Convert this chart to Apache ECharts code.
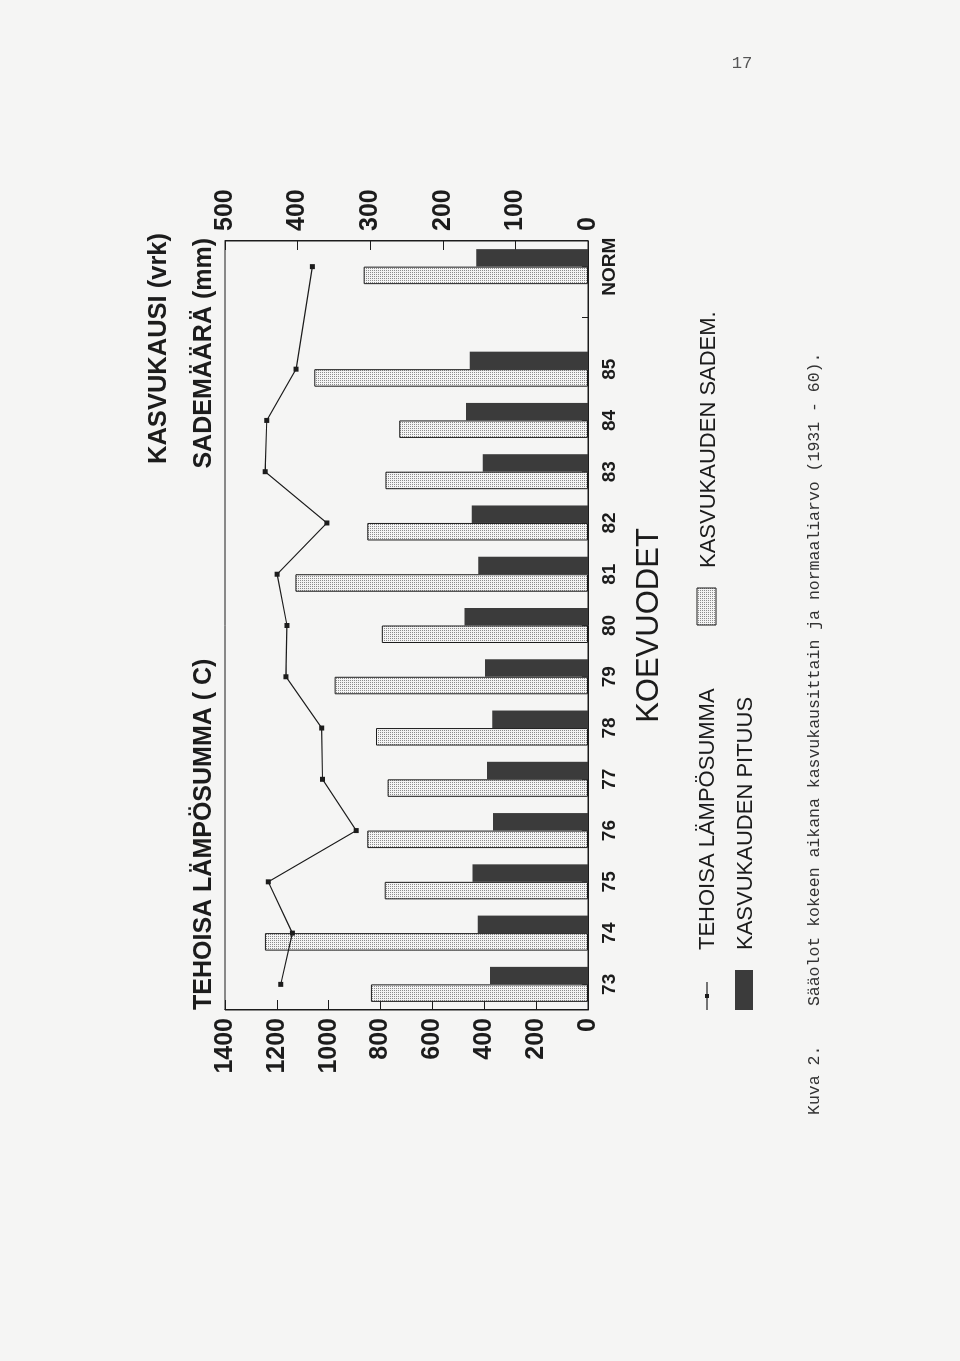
<!DOCTYPE html>
<html>
<head>
<meta charset="utf-8">
<script src="https://cdn.jsdelivr.net/npm/echarts@6/dist/echarts.min.js"></script>
<style>
html,body{margin:0;padding:0;background:#f5f5f4;}
#page{position:relative;width:960px;height:1361px;overflow:hidden;background:#f5f5f4;}
#chart{position:absolute;left:0;top:0;width:1361px;height:960px;transform-origin:0 0;transform:translate(0,1361px) rotate(-90deg);}
</style>
</head>
<body>
<div id="page"><div id="chart"></div></div>
<script>
// ---- data ----
const years = ['73','74','75','76','77','78','79','80','81','82','83','84','85','','NORM'];
const heatSum = [1185,1140,1233,894,1024,1027,1165,1161,1199,1007,1245,1239,1126,null,1063];      // TEHOISA LÄMPÖSUMMA (°C)
const rainfall = [299,445,280,304,276,292,349,284,403,304,279,260,377,null,309];                  // KASVUKAUDEN SADEM. (mm)
const seasonLength = [135,152,159,131,139,132,142,170,151,160,145,168,163,null,154];              // KASVUKAUDEN PITUUS (vrk)
const leftAxis = {min: 0, max: 1400, interval: 200};
const rightAxis = {min: 0, max: 500, interval: 100};

const INK = '#1c1c1c';
const FONT = "'Liberation Sans', Arial, Helvetica, sans-serif";

// stipple pattern for the rainfall bars
const pc = document.createElement('canvas');
pc.width = 2; pc.height = 2;
const pctx = pc.getContext('2d');
pctx.fillStyle = '#f4f4f4'; pctx.fillRect(0,0,2,2);
pctx.fillStyle = '#8c8c8c'; pctx.fillRect(0,0,1,1);
const stipple = {image: pc, repeat: 'repeat'};

const chart = echarts.init(document.getElementById('chart'), null, {renderer: 'canvas'});

const plain = v => String(v);

const option = {
  backgroundColor: 'transparent',
  animation: false,
  grid: {left: 351, right: 241, top: 225, bottom: 372, show: true, borderColor: INK, borderWidth: 1, backgroundColor: 'transparent', containLabel: false, outerBoundsMode: 'none'},
  xAxis: {
    type: 'category', data: years, boundaryGap: true,
    axisLine: {show: true, lineStyle: {color: INK, width: 1}},
    axisTick: {show: true, inside: true, alignWithLabel: true, interval: 0, length: 6, lineStyle: {color: INK}},
    axisLabel: {interval: 0, margin: 12, color: INK, fontFamily: FONT, fontWeight: 'bold', fontSize: 19},
    splitLine: {show: false},
    name: 'KOEVUODET', nameLocation: 'middle', nameGap: 46,
    nameTextStyle: {color: INK, fontFamily: FONT, fontSize: 31, fontWeight: 'normal'}
  },
  yAxis: [
    {
      type: 'value', position: 'left', min: leftAxis.min, max: leftAxis.max, interval: leftAxis.interval,
      axisLine: {show: true, lineStyle: {color: INK, width: 1}},
      axisTick: {show: true, inside: true, length: 10, lineStyle: {color: INK}},
      axisLabel: {margin: 8, color: INK, fontFamily: FONT, fontWeight: 'bold', fontSize: 25, formatter: plain},
      splitLine: {show: false}
    },
    {
      type: 'value', position: 'right', min: rightAxis.min, max: rightAxis.max, interval: rightAxis.interval,
      axisLine: {show: true, lineStyle: {color: INK, width: 1}},
      axisTick: {show: true, inside: true, length: 9, lineStyle: {color: INK}},
      axisLabel: {margin: 10, color: INK, fontFamily: FONT, fontWeight: 'bold', fontSize: 25, formatter: plain},
      splitLine: {show: false}
    }
  ],
  series: [
    {
      name: 'KASVUKAUDEN SADEM.', type: 'bar', yAxisIndex: 1, data: rainfall,
      barWidth: 17.5, barGap: '0%',
      itemStyle: {color: stipple, borderColor: INK, borderWidth: 1}
    },
    {
      name: 'KASVUKAUDEN PITUUS', type: 'bar', yAxisIndex: 1, data: seasonLength,
      barWidth: 17.5, barGap: '0%',
      itemStyle: {color: '#3b3b3b', borderColor: '#333', borderWidth: 0}
    },
    {
      name: 'TEHOISA LÄMPÖSUMMA', type: 'line', yAxisIndex: 0, data: heatSum, connectNulls: true,
      symbol: 'rect', symbolSize: 5, showSymbol: true,
      lineStyle: {color: INK, width: 1.2}, itemStyle: {color: INK}, z: 5
    }
  ],
  graphic: [
    {type: 'text', x: 351, y: 204, style: {text: 'TEHOISA LÄMPÖSUMMA ( C)', fill: INK, font: "bold 25px " + FONT, align: 'left', textAlign: 'left', verticalAlign: 'middle', textVerticalAlign: 'middle'}},
    {type: 'text', x: 1123, y: 204, style: {text: 'SADEMÄÄRÄ (mm)', fill: INK, font: "bold 25px " + FONT, align: 'right', textAlign: 'right', verticalAlign: 'middle', textVerticalAlign: 'middle'}},
    {type: 'text', x: 1128, y: 159, style: {text: 'KASVUKAUSI (vrk)', fill: INK, font: "bold 25.5px " + FONT, align: 'right', textAlign: 'right', verticalAlign: 'middle', textVerticalAlign: 'middle'}},
    // legend row 1
    {type: 'line', shape: {x1: 351, y1: 707, x2: 379, y2: 707}, style: {stroke: INK, lineWidth: 1.2}},
    {type: 'rect', shape: {x: 363, y: 705, width: 4, height: 4}, style: {fill: INK}},
    {type: 'text', x: 411, y: 708, style: {text: 'TEHOISA LÄMPÖSUMMA', fill: INK, font: "22px " + FONT, align: 'left', textAlign: 'left', verticalAlign: 'middle', textVerticalAlign: 'middle'}},
    {type: 'rect', shape: {x: 736, y: 697, width: 37, height: 19}, style: {fill: stipple, stroke: INK, lineWidth: 1}},
    {type: 'text', x: 793, y: 709, style: {text: 'KASVUKAUDEN SADEM.', fill: INK, font: "22px " + FONT, align: 'left', textAlign: 'left', verticalAlign: 'middle', textVerticalAlign: 'middle'}},
    // legend row 2
    {type: 'rect', shape: {x: 351, y: 735, width: 40, height: 18}, style: {fill: '#3b3b3b'}},
    {type: 'text', x: 411, y: 746, style: {text: 'KASVUKAUDEN PITUUS', fill: INK, font: "22px " + FONT, align: 'left', textAlign: 'left', verticalAlign: 'middle', textVerticalAlign: 'middle'}},
    // caption
    {type: 'text', x: 246, y: 815, style: {text: 'Kuva 2.    Sääolot kokeen aikana kasvukausittain ja normaaliarvo (1931 - 60).', fill: '#333', font: "16.5px 'Liberation Mono', 'Courier New', monospace", align: 'left', textAlign: 'left', verticalAlign: 'middle', textVerticalAlign: 'middle'}},
    // page number (horizontal on the page)
    {type: 'text', x: 1297, y: 742, rotation: -Math.PI / 2, style: {text: '17', fill: '#555', font: "17px 'Liberation Mono', 'Courier New', monospace", align: 'center', textAlign: 'center', verticalAlign: 'middle', textVerticalAlign: 'middle'}}
  ]
};
chart.setOption(option);
</script>
</body>
</html>
